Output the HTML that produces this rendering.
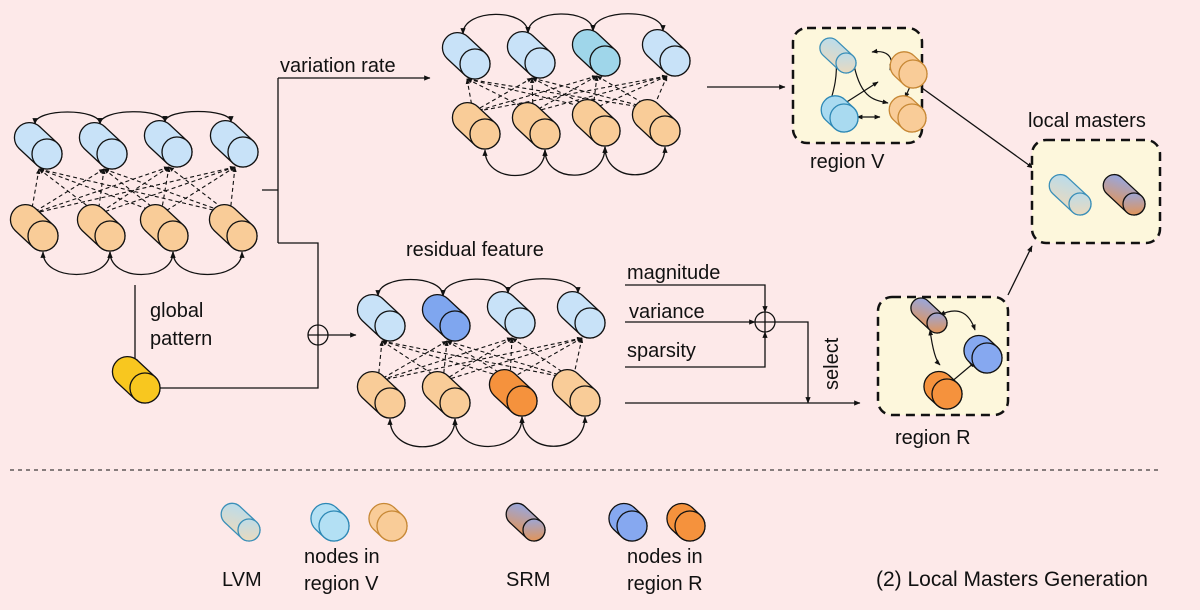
<!DOCTYPE html>
<html><head><meta charset="utf-8"><style>
body{margin:0;background:#fde9e9}
svg{display:block}
text{font-family:"Liberation Sans",sans-serif;fill:#111}
</style></head><body>
<svg id="s" width="1200" height="610" viewBox="0 0 1200 610" xmlns="http://www.w3.org/2000/svg">
<defs>
<marker id="a" viewBox="0 0 10 10" refX="9" refY="5" markerWidth="5" markerHeight="5" orient="auto-start-reverse"><path d="M0,1 L10,5 L0,9z" fill="#111"/></marker>
<linearGradient id="lvm" x1="0" y1="0" x2="1" y2="1"><stop offset="0" stop-color="#b5dcf0"/><stop offset="1" stop-color="#f3d9b5"/></linearGradient>
<linearGradient id="srm" x1="0" y1="0" x2="1" y2="1"><stop offset="0" stop-color="#8fa9ee"/><stop offset="1" stop-color="#f0913f"/></linearGradient>
</defs>
<rect width="1200" height="610" fill="#fde9e9"/>
<g id="lines" fill="none" stroke="#111" stroke-width="1.3">
<path d="M262,190 H278 M278,78 V243"/>
<path d="M278,78 H430" marker-end="url(#a)"/>
<path d="M278,243 H318 V325"/>
<circle cx="318" cy="335" r="10"/>
<path d="M308,335 H328 M318,325 V345"/>
<path d="M328,335 H356" marker-end="url(#a)"/>
<path d="M135,285 V365" marker-end="url(#a)"/>
<path d="M160,388 H318 V345"/>
<path d="M707,87 H785" marker-end="url(#a)"/>
<path d="M922,88 L1033,168" marker-end="url(#a)"/>
<path d="M1008,295 L1032,246" marker-end="url(#a)"/>
<path d="M625,285 H765 V312" marker-end="url(#a)"/>
<path d="M625,322 H755" marker-end="url(#a)"/>
<path d="M625,367 H765 V332" marker-end="url(#a)"/>
<circle cx="765" cy="322" r="10"/>
<path d="M755,322 H775 M765,312 V332"/>
<path d="M775,322 H808 V403" marker-end="url(#a)"/>
<path d="M625,403 H860" marker-end="url(#a)"/>
<path d="M10,470 H1160" stroke-dasharray="4,4" stroke-width="1"/>
</g>
<rect x="793" y="28" width="129" height="115" rx="14" fill="#fdf7dc" stroke="#111" stroke-width="2.5" stroke-dasharray="9,6"/>
<rect x="1032" y="140" width="128" height="103" rx="14" fill="#fdf7dc" stroke="#111" stroke-width="2.5" stroke-dasharray="9,6"/>
<rect x="878" y="297" width="130" height="118" rx="14" fill="#fdf7dc" stroke="#111" stroke-width="2.5" stroke-dasharray="9,6"/>
<g id="nodes"></g>
<text x="280" y="72" font-size="20">variation rate</text>
<text x="150" y="317" font-size="20">global</text>
<text x="150" y="345" font-size="20">pattern</text>
<text x="406" y="256" font-size="20">residual feature</text>
<text x="627" y="279" font-size="20">magnitude</text>
<text x="629" y="318" font-size="20">variance</text>
<text x="627" y="357" font-size="20">sparsity</text>
<text transform="translate(838,390) rotate(-90)" font-size="20">select</text>
<text x="810" y="168" font-size="20">region V</text>
<text x="1028" y="127" font-size="20">local masters</text>
<text x="895" y="444" font-size="20">region R</text>
<text x="222" y="586" font-size="20">LVM</text>
<text x="304" y="563" font-size="20">nodes in</text>
<text x="304" y="590" font-size="20">region V</text>
<text x="506" y="586" font-size="20">SRM</text>
<text x="627" y="563" font-size="20">nodes in</text>
<text x="627" y="590" font-size="20">region R</text>
<text x="876" y="586" font-size="21">(2) Local Masters Generation</text>
</svg>
<script>
var NS="http://www.w3.org/2000/svg",G=document.getElementById("nodes");
function el(t,a,p){var e=document.createElementNS(NS,t);for(var k in a)e.setAttribute(k,a[k]);(p||G).appendChild(e);return e;}
function cyl(x,y,r,fill,stroke,len){len=len||r*2.6;var g=el("g",{transform:"translate("+x+","+y+") rotate(43)",fill:fill,stroke:stroke||"#111","stroke-width":1.3});
el("rect",{x:-len,y:-r,width:len+r,height:2*r,rx:r},g);el("circle",{cx:0,cy:0,r:r},g);}
var B="#c8e2f8",O="#f9cc98";
function graph(top,bot,ta,ba,tc,bc){
 for(var i=0;i<4;i++)for(var j=0;j<4;j++){
  el("line",{x1:top[i][0]-8,y1:top[i][1]+15,x2:bot[j][0]-12,y2:bot[j][1]-22,stroke:"#111","stroke-width":1.1,"stroke-dasharray":"4,3","marker-start":"url(#a)","marker-end":"url(#a)"});}
 for(i=0;i<3;i++){var a=top[i],b=top[i+1];
  el("path",{d:"M"+(a[0]-12)+","+(a[1]-30)+" C"+(a[0]-12)+","+ta+" "+(b[0]-12)+","+ta+" "+(b[0]-12)+","+(b[1]-30),fill:"none",stroke:"#111","stroke-width":1.3,"marker-start":"url(#a)","marker-end":"url(#a)"});
  a=bot[i];b=bot[i+1];
  el("path",{d:"M"+(a[0])+","+(a[1]+16)+" C"+(a[0])+","+ba+" "+(b[0])+","+ba+" "+(b[0])+","+(b[1]+16),fill:"none",stroke:"#111","stroke-width":1.3,"marker-start":"url(#a)","marker-end":"url(#a)"});}
 for(i=0;i<4;i++){cyl(top[i][0],top[i][1],15,tc[i]);cyl(bot[i][0],bot[i][1],15,bc[i]);}
}
graph([[47,154],[112,154],[177,152],[243,152]],[[43,236],[110,236],[173,236],[242,236]],108,282,[B,B,B,B],[O,O,O,O]);
graph([[475,64],[540,63],[605,61],[675,61]],[[485,134],[545,134],[605,131],[665,131]],8,184,[B,B,"#9fd6ea",B],[O,O,O,O]);
graph([[390,326],[455,326],[520,323],[590,323]],[[390,403],[455,403],[522,401],[585,401]],274,456,[B,"#7fa6ef",B,B],[O,O,"#f5923d",O]);
cyl(145,388,15,"#f8c71f");
var L=["M836,58 C838,80 832,95 830,103","M872,52 C885,50 895,55 890,70","M842,105 L878,82","M880,117 L857,117","M905,98 L912,82","M853,60 C860,100 875,100 888,103"];
L.forEach(function(d){el("path",{d:d,fill:"none",stroke:"#111","stroke-width":1.2,"marker-start":"url(#a)","marker-end":"url(#a)"});});
cyl(846,63,10,"url(#lvm)","#3a8fb8",32);
cyl(913,74,14,"#f9cc98","#c78835",26);
cyl(844,118,14,"#a9daf0","#2d88b5",26);
cyl(912,118,14,"#f9cc98","#c78835",26);
["M930,330 C932,345 935,360 940,365","M940,315 C960,305 970,315 975,330","M950,383 L975,362"].forEach(function(d){el("path",{d:d,fill:"none",stroke:"#111","stroke-width":1.2,"marker-start":"url(#a)","marker-end":"url(#a)"});});
cyl(937,323,10,"url(#srm)","#111",32);
cyl(987,358,15,"#86a8f0","#111",26);
cyl(947,394,15,"#f5923d","#111",26);
cyl(1080,204,11,"url(#lvm)","#3a8fb8",38);
cyl(1134,204,11,"url(#srm)","#111",38);
cyl(249,530,11,"url(#lvm)","#3a8fb8",34);
cyl(334,526,15,"#b3e0f4","#2d88b5",26);
cyl(392,526,15,"#f9cc98","#c78835",26);
cyl(534,530,11,"url(#srm)","#111",34);
cyl(632,526,15,"#86a8f0","#111",26);
cyl(690,526,15,"#f5923d","#111",26);
</script>
</body></html>
